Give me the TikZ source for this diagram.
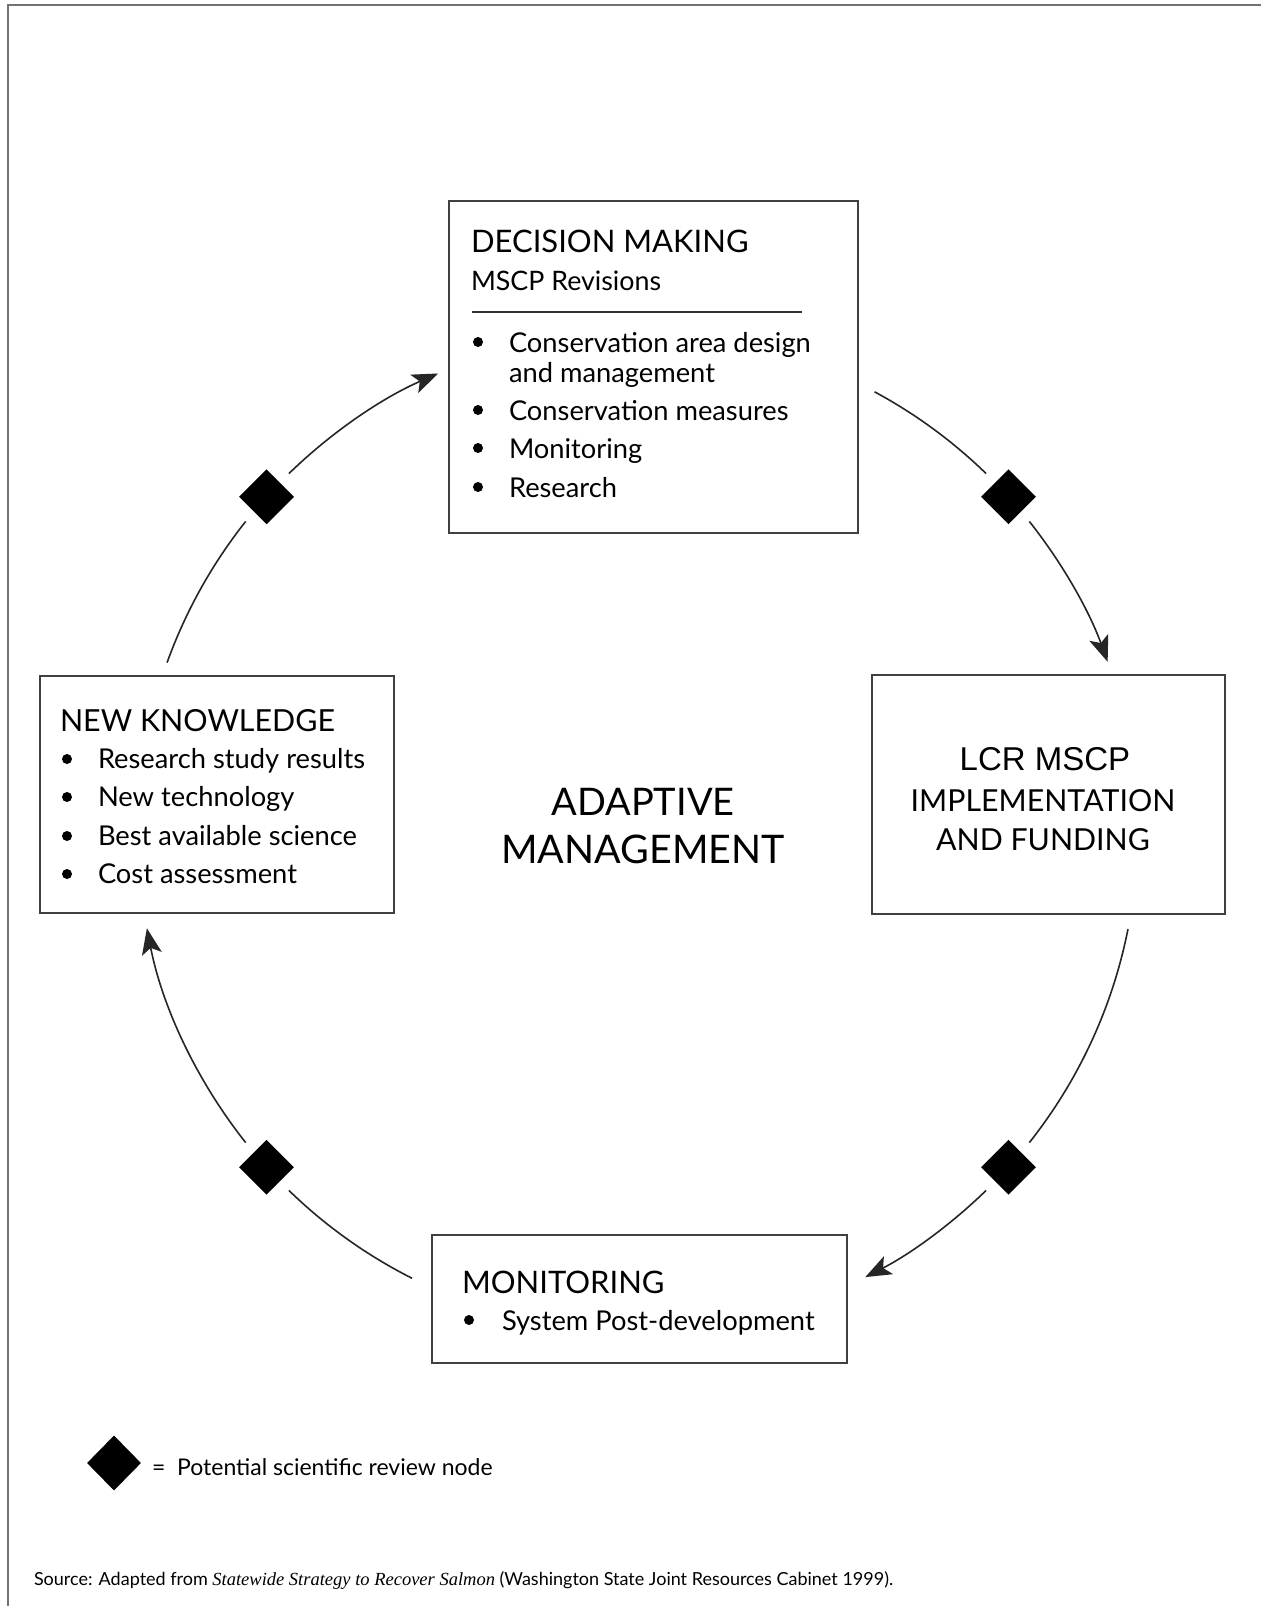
\documentclass[tikz,border=0pt]{standalone}
\usepackage{fontspec}
\setmainfont{Lato}
\newfontfamily\arialf{Liberation Sans}
\newfontfamily\timesf{Liberation Serif}
\usetikzlibrary{shapes.geometric,arrows.meta,calc}
\newcommand{\fsz}[1]{\fontsize{#1}{#1}\selectfont}
\begin{document}
\begin{tikzpicture}[x=1pt,y=-1pt,
  box/.style={draw=black!75,line width=1.8pt,inner sep=0pt,anchor=north west},
  txt/.style={anchor=base west,inner sep=0pt,outer sep=0pt},
  ctxt/.style={anchor=base,inner sep=0pt,outer sep=0pt},
  ttl/.style={txt,font=\fsz{31}},
  itm/.style={txt,font=\fsz{27.3}},
  dot/.style={circle,fill=black,minimum size=10pt,inner sep=0pt},
  dia/.style={diamond,fill=black,minimum width=55pt,minimum height=55pt,inner sep=0pt},
  conn/.style={draw=black!85,line width=1.6pt},
  arr/.style={conn,-{Stealth[length=26pt,width=20pt,inset=6pt]}},
  frame/.style={draw=black!55,line width=2.5pt}
]
\useasboundingbox (0,0) rectangle (1261,1606);
\fill[white] (0,0) rectangle (1261,1606);
\draw[frame] (8,1606) -- (8,5) -- (1261,5);

% boxes
\node[box,minimum width=409pt,minimum height=332pt] (dm) at (448,200) {};
\node[box,minimum width=354pt,minimum height=237pt] (nk) at (39,675) {};
\node[box,minimum width=353pt,minimum height=239pt] (lcr) at (871,674) {};
\node[box,minimum width=415pt,minimum height=128pt] (mon) at (431,1234) {};

% decision making
\node[ttl] (dmt) at (471,252) {DECISION MAKING};
\node[txt,font=\fsz{26.8}] (dms) at (471,290) {MSCP Revisions};
\draw[line width=1.5pt,black!80] (472,312) -- (802,312);
\node[dot] (dmb1) at (478,342) {};
\node[dot] (dmb2) at (478,410) {};
\node[dot] (dmb3) at (478,448) {};
\node[dot] (dmb4) at (478,487) {};
\node[itm] (dm1) at (509,352) {Conservation area design};
\node[itm] (dm1b) at (509,382) {and management};
\node[itm] (dm2) at (509,420) {Conservation measures};
\node[itm] (dm3) at (509,458) {Monitoring};
\node[itm] (dm4) at (509,497) {Research};

% new knowledge
\node[txt,font=\fsz{30.4}] (nkt) at (60,731) {NEW KNOWLEDGE};
\node[dot] (nkb1) at (67,759) {};
\node[dot] (nkb2) at (67,797) {};
\node[dot] (nkb3) at (67,836) {};
\node[dot] (nkb4) at (67,874) {};
\node[itm] (nk1) at (98,768) {Research study results};
\node[itm] (nk2) at (98,806) {New technology};
\node[itm] (nk3) at (98,845) {Best available science};
\node[itm] (nk4) at (98,883) {Cost assessment};

% LCR
\node[ctxt,font=\arialf\fsz{33}] (lcr1) at (1045,770) {LCR MSCP};
\node[ctxt,font=\fsz{30.3}] (lcr2) at (1043,811) {IMPLEMENTATION};
\node[ctxt,font=\fsz{30.3}] (lcr3) at (1043,850) {AND FUNDING};

% monitoring
\node[ttl] (mont) at (462,1293) {MONITORING};
\node[dot] (monb) at (469,1320) {};
\node[itm] (mon1) at (502,1330) {System Post-development};

% center
\node[ctxt,font=\fsz{38}] (am1) at (643,815) {ADAPTIVE};
\node[ctxt,font=\fsz{39.4}] (am2) at (643,863) {MANAGEMENT};

% cycle
\coordinate (C) at (637.5,832);
\coordinate (tr1) at ($(C)+(298.3:500)$);
\coordinate (tr2) at ($(C)+(321.6:500)$);
\coordinate (br1) at ($(C)+(11.2:500)$);
\coordinate (br2) at ($(C)+(45.8:500)$);
\coordinate (bl1) at ($(C)+(116.8:500)$);
\coordinate (bl2) at ($(C)+(141.6:500)$);
\coordinate (tl1) at ($(C)+(199.8:500)$);
\coordinate (tl2) at ($(C)+(225.8:500)$);
\node[dia] (dtr) at ($(C)+(317.9:500)$) {};
\node[dia] (dbr) at ($(C)+(42.1:500)$) {};
\node[dia] (dbl) at ($(C)+(137.9:500)$) {};
\node[dia] (dtl) at ($(C)+(222.1:500)$) {};

\draw[conn] (tr1) arc[start angle=298.3,end angle=314.2,radius=500];
\draw[arr] (tr2) arc[start angle=321.6,end angle=340.1,radius=500];
\draw[conn] (br1) arc[start angle=11.2,end angle=38.4,radius=500];
\draw[arr] (br2) arc[start angle=45.8,end angle=62.9,radius=500];
\draw[conn] (bl1) arc[start angle=116.8,end angle=134.2,radius=500];
\draw[arr] (bl2) arc[start angle=141.6,end angle=168.9,radius=500];
\draw[conn] (tl1) arc[start angle=199.8,end angle=218.4,radius=500];
\draw[arr] (tl2) arc[start angle=225.8,end angle=246.5,radius=500];

% legend
\node[diamond,fill=black,minimum width=54pt,minimum height=55pt,inner sep=0pt] (leg) at (114,1463) {};
\node[txt,font=\fsz{23}] (legt) at (152,1475) {=\ \ Potential scientific review node};

% source
\node[txt,font=\fsz{18}] (src) at (34,1585) {Source: Adapted from {\timesf\itshape\fsz{18.5}Statewide Strategy to Recover Salmon} (Washington State Joint Resources Cabinet 1999).};
\end{tikzpicture}
\end{document}
